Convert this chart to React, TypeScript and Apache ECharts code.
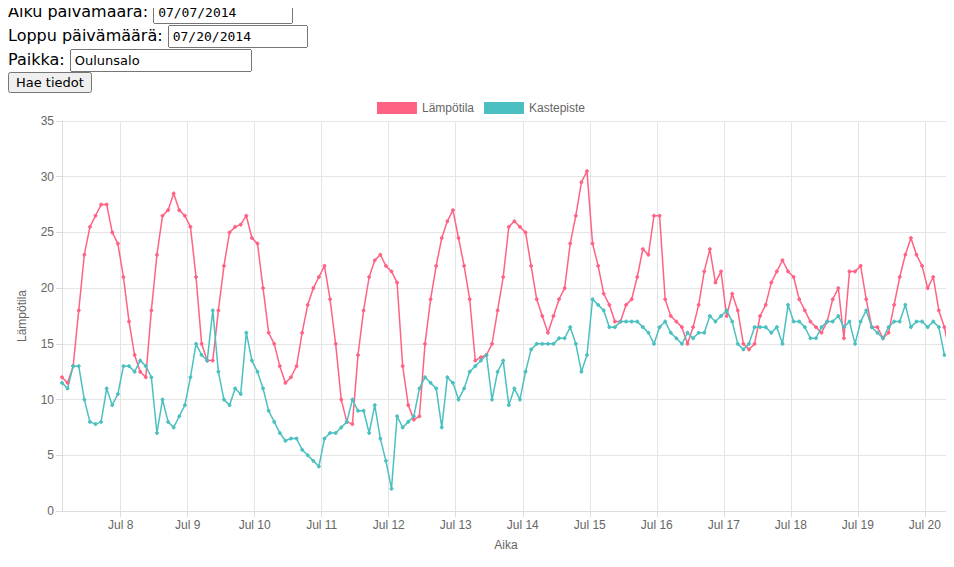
import React, { useEffect, useRef } from "react";
import * as echarts from "echarts";

const startTime = [2014, 6, 7, 3];
const stepHours = 2;
const temperature = [12,11.5,13,18,23,25.5,26.5,27.5,27.5,25,24,21,17,14,12.5,12,18,23,26.5,27,28.5,27,26.5,25.5,21,15,13.5,13.5,18,22,25,25.5,25.7,26.5,24.5,24,20,16,15,13,11.5,12,13,16,18.5,20,21,22,19,15,10,8,7.8,14,18,21,22.5,23,22,21.5,20.5,13,9.5,8.2,8.5,15,19,22,24.5,26,27,24.5,22,19,13.5,13.8,14,15,18,21,25.5,26,25.5,25,22,19,17.5,16,17.5,19,20,24,26.5,29.5,30.5,24,22,19.5,18.5,17,17,18.5,19,21,23.5,23,26.5,26.5,19,17.5,17,16.5,15,16.5,18.5,21.5,23.5,20.5,21.5,17.5,19.5,18,15,14.5,15,17.5,18.5,20.5,21.5,22.5,21.5,21,19,18,17,16.5,16,17,19,20,15.5,21.5,21.5,22,19,16.5,16.5,15.5,16,18.5,21,23,24.5,23,22,20,21,18,16.5,14];
const dewPoint = [11.5,11,13,13,10,8,7.8,8,11,9.5,10.5,13,13,12.5,13.5,13,12,7,10,8,7.5,8.5,9.5,12,15,14,13.5,18,12.5,10,9.5,11,10.5,16,13.5,12.5,11,9,8,7,6.3,6.5,6.5,5.5,5,4.5,4,6.5,7,7,7.5,8,10,9,9,7,9.5,6.5,4.5,2,8.5,7.5,8,8.5,11,12,11.5,11,7.5,12,11.5,10,11,12.5,13,13.5,14,10,12.5,13.5,9.5,11,10,12.5,14.5,15,15,15,15,15.5,15.5,16.5,15,12.5,14,19,18.5,18,16.5,16.5,17,17,17,17,16.5,16,15,16.5,17,16,15.5,15,16,15.5,16,16,17.5,17,17.5,18,17,15,14.5,15,16.5,16.5,16.5,16,16.5,15,18.5,17,17,16.5,15.5,15.5,16.5,17,17,17.5,16.5,17,15,17,18,16.5,16,15.5,16.5,17,17,18.5,16.5,17,17,16.5,17,16.5,14];
const seriesNames = ["Lämpötila", "Kastepiste"];
const monthNames = ["Jan","Feb","Mar","Apr","May","Jun","Jul","Aug","Sep","Oct","Nov","Dec"];

const t0 = new Date(startTime[0], startTime[1], startTime[2], startTime[3]).getTime();
const toPairs = (arr: number[]) => arr.map((v, i) => [t0 + i * stepHours * 3600000, v]);

export default function App() {
  const ref = useRef<HTMLDivElement>(null);
  useEffect(() => {
    const chart = echarts.init(ref.current!, null, { renderer: "svg" });
    const n = Math.max(temperature.length, dewPoint.length) - 1;
    chart.setOption({
      animation: false,
      textStyle: { fontFamily: "Liberation Sans, Arial, sans-serif" },
      legend: {
        top: 4,
        itemWidth: 40,
        itemHeight: 12,
        icon: "rect",
        itemGap: 10,
        textStyle: { color: "#666", fontSize: 12 },
        data: seriesNames,
      },
      grid: { left: 47, right: 4, top: 28, bottom: 52 },
      xAxis: {
        type: "time",
        min: t0,
        max: t0 + n * stepHours * 3600000,
        minInterval: 86400000,
        maxInterval: 86400000,
        name: "Aika",
        nameLocation: "middle",
        nameGap: 28,
        nameTextStyle: { color: "#666", fontSize: 12 },
        axisLine: { lineStyle: { color: "#ddd" } },
        axisTick: { show: true, lineStyle: { color: "#ddd" }, length: 6 },
        splitLine: { show: true, lineStyle: { color: "#e5e5e5" } },
        axisLabel: {
          color: "#666",
          fontSize: 12,
          hideOverlap: false,
          formatter: (v: number) => {
            const d = new Date(v);
            return monthNames[d.getMonth()] + " " + d.getDate();
          },
        },
      },
      yAxis: {
        type: "value",
        min: 0,
        max: 35,
        interval: 5,
        name: "Lämpötila",
        nameLocation: "middle",
        nameGap: 34,
        nameTextStyle: { color: "#666", fontSize: 12 },
        axisLine: { show: true, lineStyle: { color: "#ddd" } },
        axisTick: { show: true, lineStyle: { color: "#ddd" }, length: 6 },
        splitLine: { lineStyle: { color: "#e5e5e5" } },
        axisLabel: { color: "#666", fontSize: 12 },
      },
      series: [
        {
          name: seriesNames[0],
          type: "line",
          data: toPairs(temperature),
          symbol: "circle",
          symbolSize: 3,
          color: "rgba(255,99,132,0.5)",
          lineStyle: { color: "rgb(255,99,132)", width: 1.5 },
          itemStyle: { color: "rgb(255,99,132)", borderColor: "rgb(255,99,132)" },
        },
        {
          name: seriesNames[1],
          type: "line",
          data: toPairs(dewPoint),
          symbol: "circle",
          symbolSize: 3,
          color: "rgba(75,192,192,0.5)",
          lineStyle: { color: "rgb(75,192,192)", width: 1.5 },
          itemStyle: { color: "rgb(75,192,192)", borderColor: "rgb(75,192,192)" },
        },
      ],
    });
    return () => chart.dispose();
  }, []);

  const inputStyle: React.CSSProperties = { fontFamily: "DejaVu Sans Mono, monospace", fontSize: 13, padding: "2px 3px", width: 130 };
  const labelStyle: React.CSSProperties = { fontFamily: "DejaVu Sans, sans-serif", fontSize: 16, lineHeight: "24px" };
  return (
    <div style={{ margin: "-8px 0 0 -4px", padding: "0" }}>
      <div style={{ padding: "0 0 0 4px" }}>
        <div style={labelStyle}>Alku päivämäärä: <input defaultValue="07/07/2014" style={inputStyle} /></div>
        <div style={labelStyle}>Loppu päivämäärä: <input defaultValue="07/20/2014" style={inputStyle} /></div>
        <div style={labelStyle}>Paikka: <input defaultValue="Oulunsalo" style={{ ...inputStyle, fontFamily: "DejaVu Sans, sans-serif", width: 172 }} /></div>
        <button style={{ fontFamily: "DejaVu Sans, sans-serif", fontSize: 13 }}>Hae tiedot</button>
      </div>
      <div ref={ref} style={{ width: 946, height: 470, marginLeft: 4 }} />
    </div>
  );
}
